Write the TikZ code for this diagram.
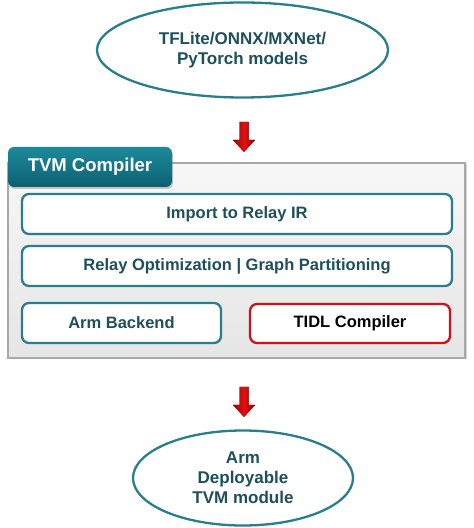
\documentclass[tikz,border=0pt]{standalone}
\usepackage{fontspec}
\setmainfont{Liberation Sans}
\usetikzlibrary{shapes.geometric,shadows}
\definecolor{tealB}{HTML}{2A7E8B}
\definecolor{tealT}{HTML}{1E4F5A}
\definecolor{tabTop}{HTML}{1C8A9C}
\definecolor{tabBot}{HTML}{0C6070}
\definecolor{grayB}{HTML}{A8A8A8}
\definecolor{redB}{HTML}{D0101A}
\definecolor{arrDark}{HTML}{9E0000}
\definecolor{arrLight}{HTML}{E01010}
\tikzset{
  x=1pt,y=1pt,
  oval/.style={ellipse,draw=tealB,line width=2.3pt,fill=white,text=tealT,
    font=\fontsize{17}{20}\selectfont\bfseries,align=center,inner sep=0pt},
  stage/.style={draw=tealB,line width=2.3pt,rounded corners=7pt,fill=white,
    text=tealT,font=\fontsize{16.5}{20}\selectfont\bfseries,inner sep=0pt,
    minimum height=40pt},
  redstage/.style={stage,draw=redB,text=black},
  panel/.style={draw=grayB,line width=1.2pt,top color=gray!6,bottom color=gray!20,
    drop shadow={shadow xshift=1.5pt,shadow yshift=-1.5pt,opacity=0.35},inner sep=0pt},
  tab/.style={rounded corners=6pt,top color=tabTop,bottom color=tabBot,
    text=white,font=\fontsize{18.5}{22}\selectfont\bfseries,inner sep=0pt,
    drop shadow={shadow xshift=1pt,shadow yshift=-2pt,opacity=0.4}},
  blockarrow/.style={left color=arrDark,right color=arrDark,middle color=arrLight,draw=none}
}
\begin{document}
\begin{tikzpicture}
\useasboundingbox (0,0) rectangle (474,528);
% input models
\node[oval,minimum width=291pt,minimum height=95pt] (models) at (242.5,478)
  {TFLite/ONNX/MXNet/\\PyTorch models};
% compiler panel
\node[panel,minimum width=457pt,minimum height=195pt] (panel) at (236.5,267.5) {};
\node[tab,minimum width=164pt,minimum height=40pt] (tab) at (90,361) {TVM Compiler};
\node[stage,minimum width=430pt] (import) at (237,314) {Import to Relay IR};
\node[stage,minimum width=430pt] (relay) at (237,262) {Relay Optimization | Graph Partitioning};
\node[stage,minimum width=199pt] (arm) at (121.5,205) {Arm Backend};
\node[redstage,minimum width=200pt,minimum height=39pt] (tidl) at (350,204.5) {TIDL Compiler};
% output
\node[oval,minimum width=220pt,minimum height=95pt] (out) at (243,50)
  {Arm\\Deployable\\TVM module};
% arrows
\coordinate (a1) at (244,406);
\coordinate (a2) at (244,141);
\foreach \c in {a1,a2}{
  \fill[blockarrow] ([xshift=-4.5pt]\c) -- ([xshift=4.5pt]\c) -- ([xshift=4.5pt,yshift=-18pt]\c)
    -- ([xshift=11pt,yshift=-18pt]\c) -- ([yshift=-30pt]\c) -- ([xshift=-11pt,yshift=-18pt]\c)
    -- ([xshift=-4.5pt,yshift=-18pt]\c) -- cycle;
}
\end{tikzpicture}
\end{document}
